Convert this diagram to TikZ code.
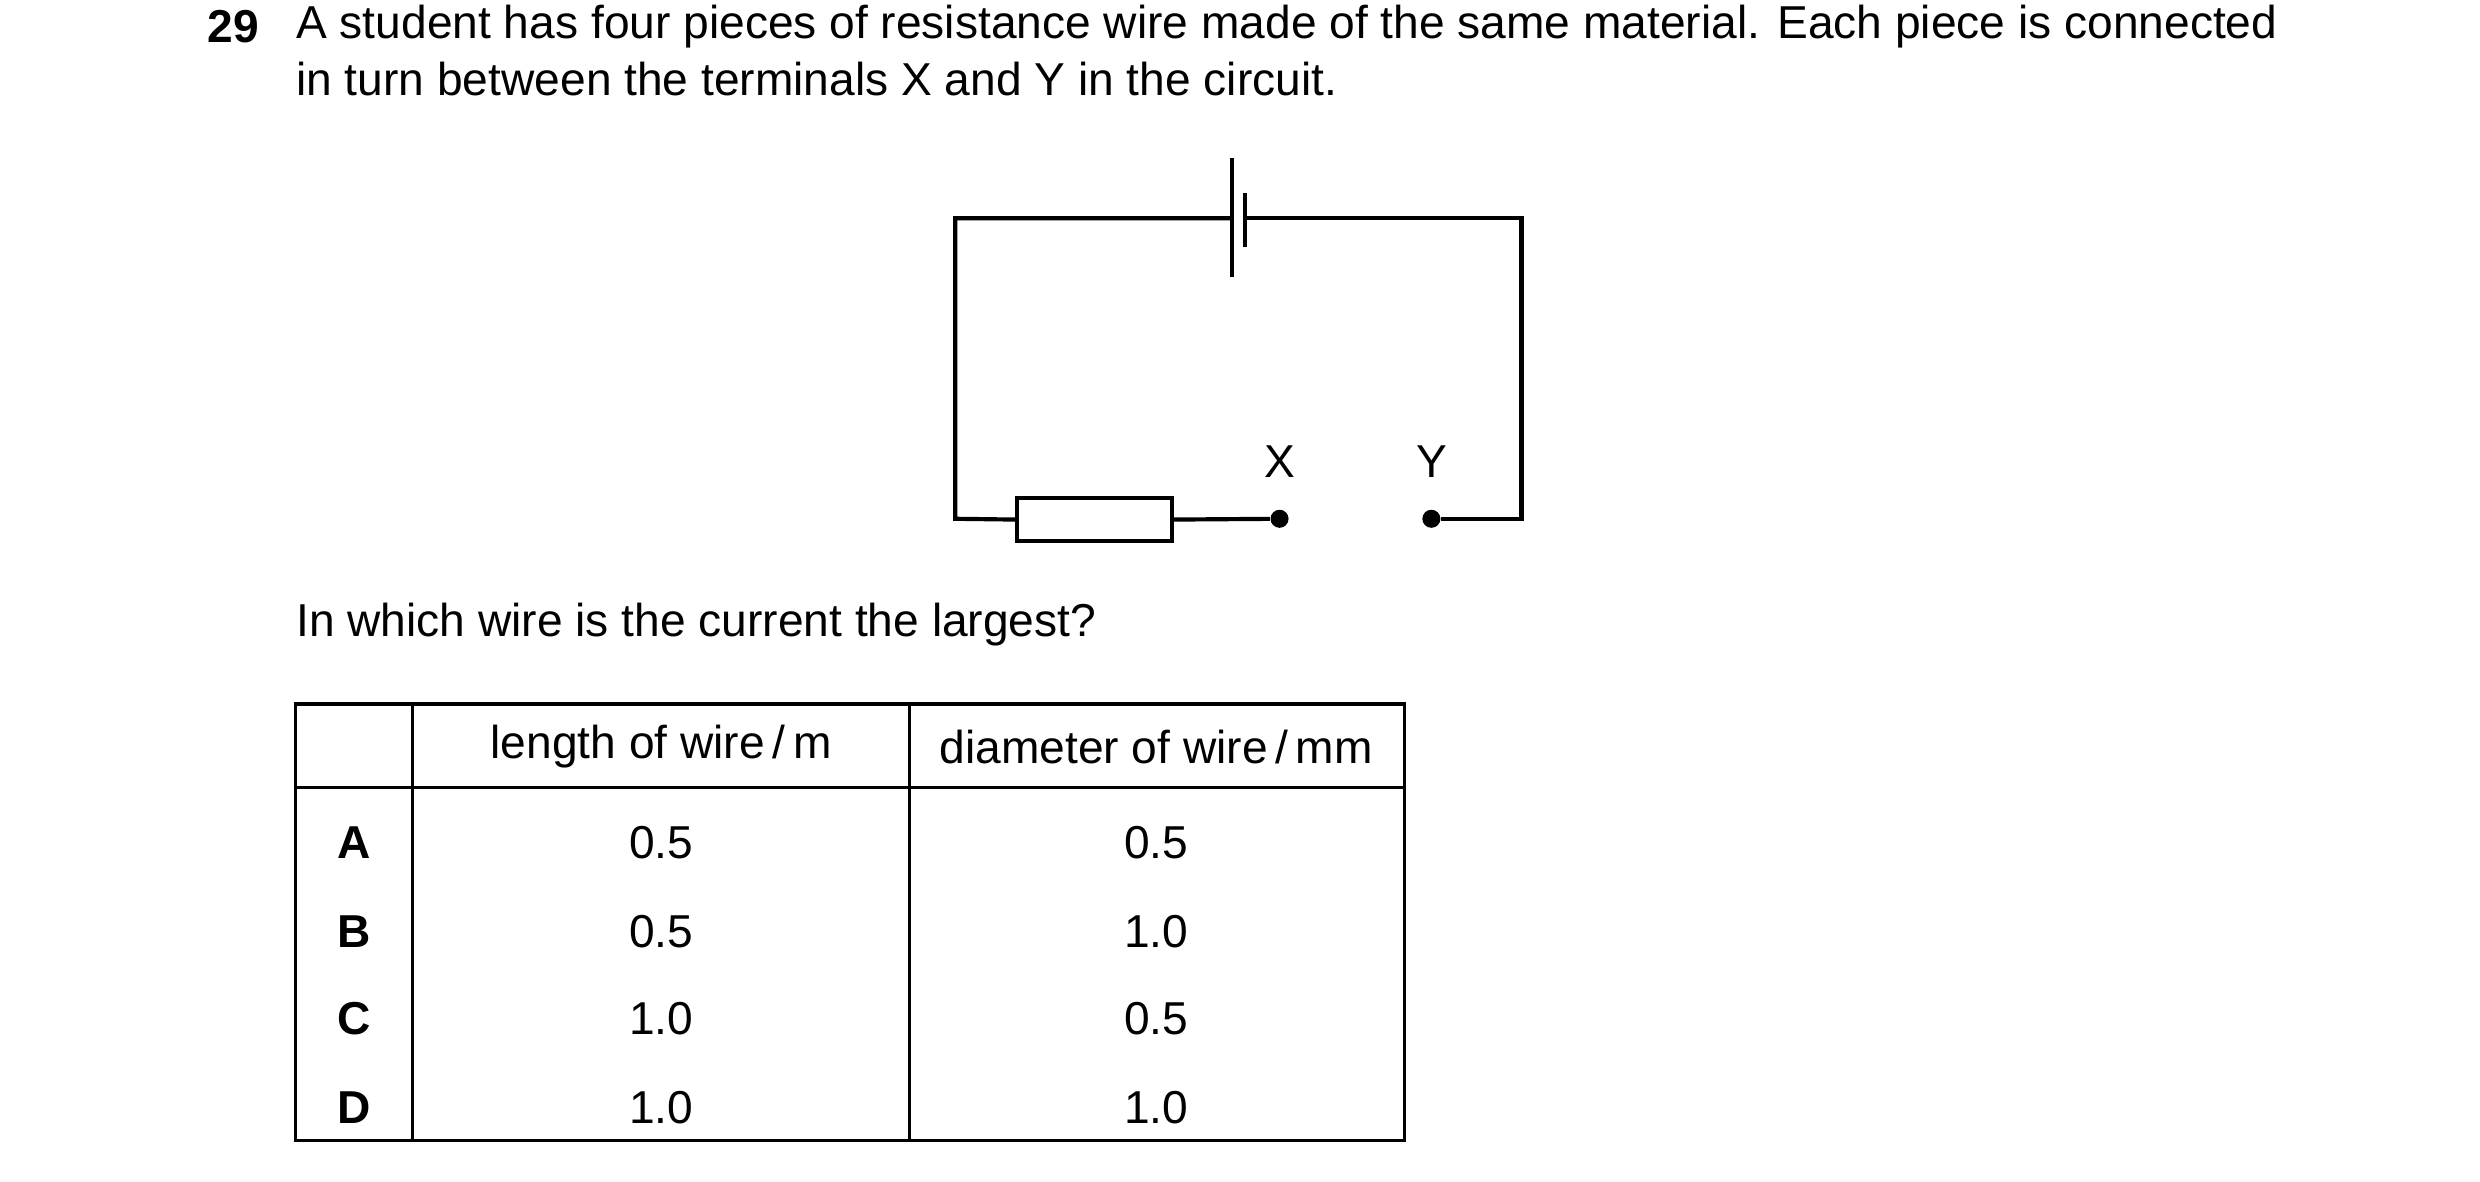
\documentclass[tikz,border=0pt]{standalone}
\usepackage{fontspec}
\setmainfont{Liberation Sans}
\begin{document}
\begin{tikzpicture}[x=0.02cm,y=-0.02cm,
  w/.style={line width=1.5pt},
  t/.style={font=\fontsize{16.6}{19.9}\selectfont,inner sep=0pt},
  tb/.style={font=\fontsize{16.6}{19.9}\selectfont\bfseries,inner sep=0pt},
  dot/.style={circle,fill=black,inner sep=0pt,minimum size=6.5pt}]
\useasboundingbox (0,0) rectangle (1568,747);
\node[tb,anchor=west] (n) at (131,17) {29};
\node[t,anchor=west] (l1) at (187,17) {A student has four pieces of resistance wire made of the same material. Each piece is connected};
\node[t,anchor=west] (l2) at (187,50) {in turn between the terminals X and Y in the circuit.};
% circuit
\coordinate (tl) at (604,138); \coordinate (tr) at (962,138);
\coordinate (bl) at (604,328); \coordinate (br) at (962,328);
\coordinate (b1) at (779,138); \coordinate (b2) at (787,138);
\node[draw,w,minimum width=1.96cm,minimum height=0.54cm,inner sep=0pt] (r) at (692,328.5) {};
\node[dot] (X) at (809,328) {};
\node[dot] (Y) at (905,328) {};
\draw[w] (b1) -- (tl) -- (bl) -- (r.west);
\draw[w] (b2) -- (tr) -- (br) -- (Y);
\draw[w] (779,100) -- (779,175);
\draw[w] (787,122) -- (787,156);
\draw[w] (r.east) -- (X);
\node[t] (xl) at (809,292) {X};
\node[t] (yl) at (905,292) {Y};
\node[t,anchor=west] (q) at (187,395) {In which wire is the current the largest?};
% table
\draw[line width=1.2pt] (187,445) rectangle (888,721);
\draw[line width=1.2pt] (187,498) -- (888,498);
\draw[line width=1.2pt] (261,445) -- (261,721);
\draw[line width=1.2pt] (575,445) -- (575,721);
\node[t] (h1) at (418,472) {length of wire\,/\,m};
\node[t] (h2) at (731,472) {diameter of wire\,/\,mm};
\foreach \L/\a/\b/\y in {A/0.5/0.5/533,B/0.5/1.0/589,C/1.0/0.5/644,D/1.0/1.0/700}{
  \node[tb] (r\L) at (224,\y) {\L};
  \node[t] (a\L) at (418,\y) {\a};
  \node[t] (b\L) at (731,\y) {\b};
}
\end{tikzpicture}
\end{document}
